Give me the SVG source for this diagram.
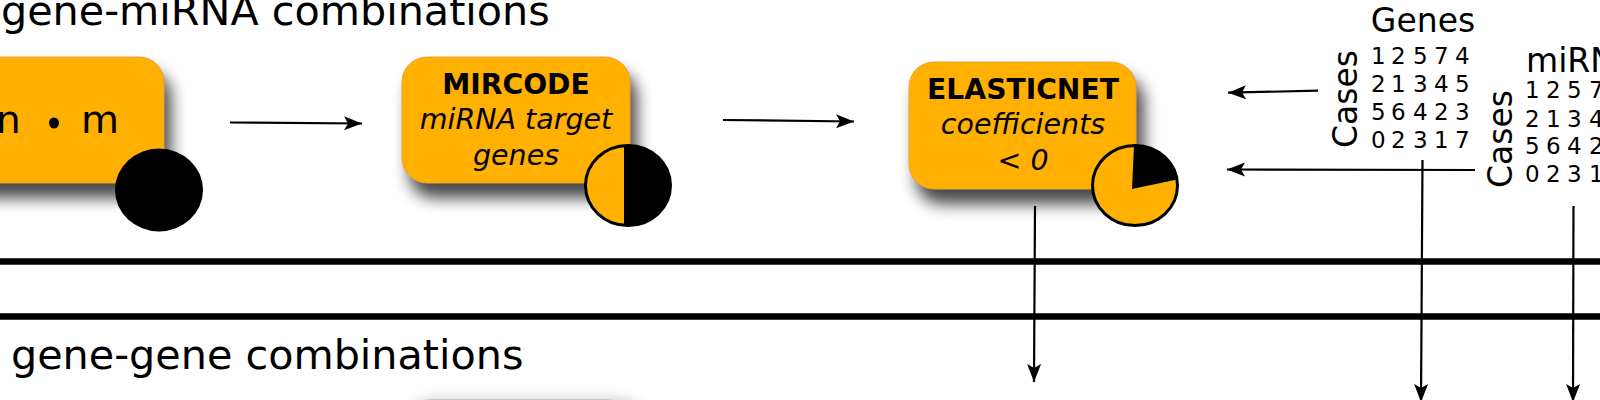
<svg xmlns="http://www.w3.org/2000/svg" width="1600" height="400" viewBox="0 0 1600 400">
<style>
text{font-family:"DejaVu Sans",sans-serif;fill:#000}
.h{font-size:41.3px}
.m{font-size:33px}
.d{font-size:23px}
.b{font-size:28.2px;font-weight:bold;text-anchor:middle}
.i{font-size:28.5px;font-style:italic;text-anchor:middle}
.box{fill:#ffb000;stroke:#f0a030;stroke-width:1}
.sh{fill:#000;opacity:.72;filter:url(#blur)}
.pie{fill:#ffb000;stroke:#000;stroke-width:3}
.bar{stroke:#000;stroke-width:6.5;fill:none}
.ln{stroke:#000;stroke-width:2.2;fill:none;marker-end:url(#ah)}
</style>
<defs>
<filter id="blur" x="-20%" y="-30%" width="140%" height="160%"><feGaussianBlur stdDeviation="8"/></filter>
<marker id="ah" markerUnits="userSpaceOnUse" markerWidth="20" markerHeight="16" refX="18" refY="7" orient="auto"><path d="M0 0L18 7L0 14L4 7Z" fill="#000"/></marker>
</defs>
<rect width="1600" height="400" fill="#fff"/>
<text class="h" x="1" y="25">gene-miRNA combinations</text>
<text class="h" x="11" y="369">gene-gene combinations</text>
<path class="bar" d="M0 261.5H1600M0 316.5H1600"/>
<g id="node-count">
<rect class="sh" x="-33" y="71" width="204" height="127" rx="25"/>
<rect class="box" x="-40" y="57" width="204" height="126" rx="25"/>
<text x="-4" y="133" font-size="39">n</text>
<ellipse cx="54" cy="123" rx="5" ry="5.5" fill="#000"/>
<text x="81" y="133" font-size="39">m</text>
<ellipse cx="159" cy="190" rx="44" ry="41.5" fill="#000"/>
</g>
<g id="node-mircode">
<rect class="sh" x="409" y="71" width="228" height="127" rx="25"/>
<rect class="box" x="402" y="57" width="228" height="126" rx="25"/>
<text class="b" x="516" y="94">MIRCODE</text>
<text class="i" x="516" y="129">miRNA target</text>
<text class="i" x="516" y="165">genes</text>
<ellipse class="pie" cx="628" cy="185.5" rx="42.5" ry="40"/>
<path d="M624 145.7A42.5 40 0 1 1 624 225.3Z" fill="#000"/>
</g>
<g id="node-elasticnet">
<rect class="sh" x="916" y="76" width="228" height="128" rx="25"/>
<rect class="box" x="909" y="62" width="227" height="127" rx="25"/>
<text class="b" x="1023" y="99">ELASTICNET</text>
<text class="i" x="1023" y="134">coefficients</text>
<text class="i" x="1023" y="170">&lt; 0</text>
<ellipse class="pie" cx="1135" cy="185.5" rx="42.5" ry="40"/>
<path d="M1132 189L1134 145.5A42.5 40 0 0 1 1177 179.5Z" fill="#000"/>
</g>
<g id="node-genes">
<text class="m" x="1423" y="32" text-anchor="middle">Genes</text>
<text class="m" transform="translate(1356.5 148) rotate(-90)">Cases</text>
<text class="d" x="1371 1391 1413 1434 1455" y="64">12574</text>
<text class="d" x="1371 1391 1413 1434 1455" y="92">21345</text>
<text class="d" x="1371 1391 1413 1434 1455" y="120">56423</text>
<text class="d" x="1371 1391 1413 1434 1455" y="148">02317</text>
</g>
<g id="node-mirna">
<text class="m" x="1526" y="72">miRNA</text>
<text class="m" transform="translate(1512 188) rotate(-90)">Cases</text>
<text class="d" x="1525 1546 1567 1589 1610" y="98">12574</text>
<text class="d" x="1525 1546 1567 1589 1610" y="127">21345</text>
<text class="d" x="1525 1546 1567 1589 1610" y="154">56423</text>
<text class="d" x="1525 1546 1567 1589 1610" y="182">02317</text>
</g>
<g id="node-green">
<rect x="408" y="402" width="236" height="100" rx="25" class="sh" style="opacity:.3"/>
<rect x="402" y="399.4" width="234" height="100" rx="28" fill="#9fbd8c"/>
</g>
<g id="connectors">
<path class="ln" d="M230 122.5L362 123.5"/>
<path class="ln" d="M723 120L854 121.5"/>
<path class="ln" d="M1318 90.7L1228 92.7"/>
<path class="ln" d="M1475 170L1227 169.5"/>
<path class="ln" d="M1035 206L1034 382"/>
<path class="ln" d="M1422.5 160L1421 402"/>
<path class="ln" d="M1573.5 206L1573 402"/>
</g>
</svg>
